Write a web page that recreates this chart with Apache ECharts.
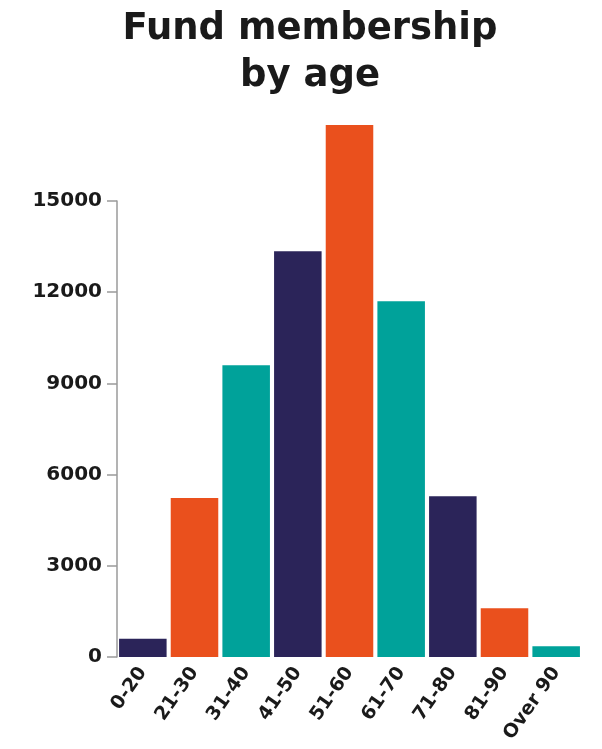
<!DOCTYPE html>
<html>
<head>
<meta charset="utf-8">
<script src="https://cdn.jsdelivr.net/npm/echarts@6/dist/echarts.min.js"></script>
<style>
  html, body { margin: 0; padding: 0; background: #fff; }
  #chart { width: 602px; height: 749px; }
</style>
</head>
<body>
<div id="chart"></div>
<script>
// data
const ageGroups = ['0-20', '21-30', '31-40', '41-50', '51-60', '61-70', '71-80', '81-90', 'Over 90'];
const members = [600, 5230, 9600, 13350, 17500, 11700, 5290, 1600, 350];
const yTicks = [0, 3000, 6000, 9000, 12000, 15000];

const palette = ['#2b2459', '#ea501d', '#00a29a'];
const font = 'DejaVu Sans';

const chart = echarts.init(document.getElementById('chart'));

const option = {
    animation: false,
    title: {
        text: 'Fund membership\nby age',
        left: 305,
        textAlign: 'center',
        top: 1,
        textStyle: {
            fontFamily: font,
            fontWeight: 'bold',
            fontSize: 37,
            lineHeight: 47,
            color: '#1a1a1a'
        }
    },
    grid: {
        left: 117,
        right: 20,
        top: 201,
        bottom: 92
    },
    xAxis: {
        type: 'category',
        data: ageGroups,
        axisLine: { show: false },
        axisTick: { show: false },
        axisLabel: {
            rotate: 55,
            interval: 0,
            margin: 12,
            padding: [10, 0, 0, 0],
            fontFamily: font,
            fontWeight: 'bold',
            fontSize: 19,
            color: '#1a1a1a'
        }
    },
    yAxis: {
        type: 'value',
        min: yTicks[0],
        max: yTicks[yTicks.length - 1],
        interval: 3000,
        splitLine: { show: false },
        axisLine: { show: true, lineStyle: { color: '#9a9a9a', width: 1.5 } },
        axisTick: { show: true, length: 10, lineStyle: { color: '#9a9a9a', width: 1.5 } },
        axisLabel: {
            margin: 15,
            formatter: v => String(v),
            fontFamily: font,
            fontWeight: 'bold',
            fontSize: 20,
            color: '#1a1a1a'
        }
    },
    series: [{
        type: 'bar',
        clip: false,
        barCategoryGap: '8%',
        data: members.map((v, i) => ({
            value: v,
            itemStyle: { color: palette[i % 3] }
        }))
    }]
};

chart.setOption(option);
</script>
</body>
</html>
